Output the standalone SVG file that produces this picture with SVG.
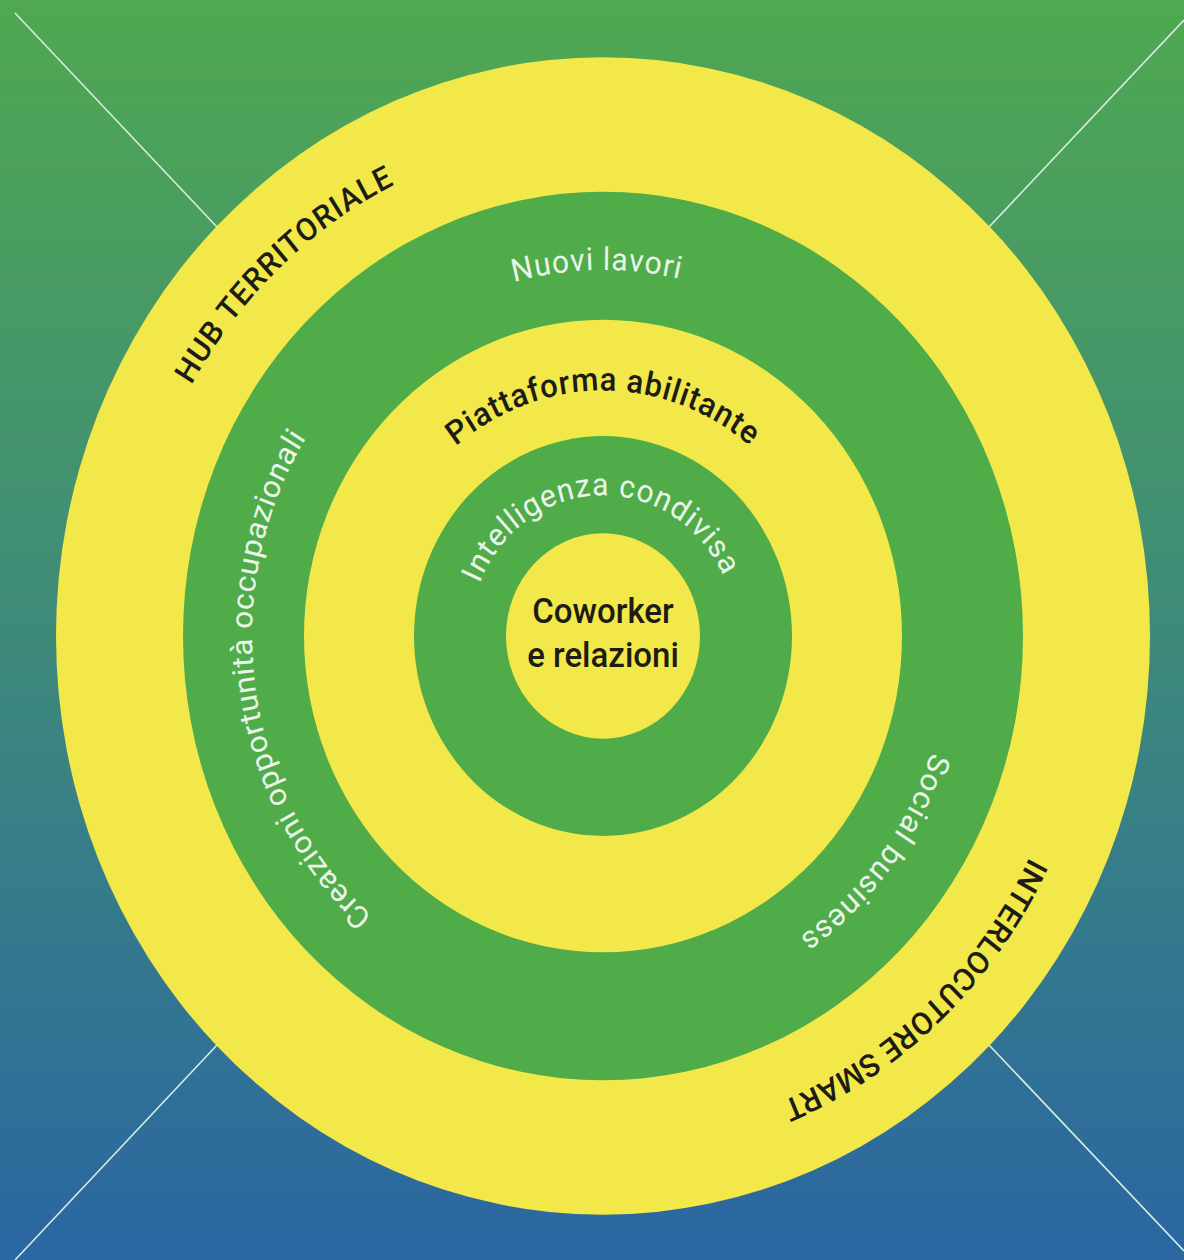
<svg xmlns="http://www.w3.org/2000/svg" xmlns:xlink="http://www.w3.org/1999/xlink" width="1184" height="1260" viewBox="0 0 1184 1260">
  <defs>
    <linearGradient id="bg" x1="0" y1="0" x2="0" y2="1">
      <stop offset="0" stop-color="#50a850"/>
      <stop offset="0.5" stop-color="#3e8a7a"/>
      <stop offset="1" stop-color="#2a66a2"/>
    </linearGradient>
    <path id="p475" d="M0,475 A475,475 0 0,1 0,-475 A475,475 0 0,1 0,475"/>
    <path id="p346" d="M0,346 A346,346 0 0,1 0,-346 A346,346 0 0,1 0,346"/>
    <path id="p351" d="M0,351 A351,351 0 0,1 0,-351 A351,351 0 0,1 0,351"/>
    <path id="p232" d="M0,232 A232,232 0 0,1 0,-232 A232,232 0 0,1 0,232"/>
    <path id="p133" d="M0,133 A133,133 0 0,1 0,-133 A133,133 0 0,1 0,133"/>
    <style>
      .yel { fill: #f2e84a; }
      .grn { fill: #50ac48; }
      .diag { stroke: #d6eee4; stroke-width: 1.6; fill: none; }
      .dark { fill: #1c1c14; font-family: Roboto, "Liberation Sans", sans-serif; font-weight: 500; }
      .light { fill: #e9f5ea; font-family: Roboto, "Liberation Sans", sans-serif; font-weight: 400; }
    </style>
  </defs>
  <rect x="0" y="0" width="1184" height="1260" fill="url(#bg)"/>
  <g id="connectors">
    <line class="diag" x1="15" y1="13" x2="217" y2="227"/>
    <line class="diag" x1="1184" y1="20" x2="989" y2="227"/>
    <line class="diag" x1="217" y1="1045" x2="15" y2="1260"/>
    <line class="diag" x1="989" y1="1045" x2="1184" y2="1251"/>
  </g>
  <g transform="translate(603,636) scale(1,1.058)">
    <g id="ring-hub">
      <circle class="yel" cx="0" cy="0" r="547"/>
      <text class="dark" font-size="30" letter-spacing="1" transform="rotate(-43)"><textPath href="#p475" startOffset="50%" text-anchor="middle">HUB TERRITORIALE</textPath></text>
      <text class="dark" font-size="30" letter-spacing="0.3" transform="rotate(137)"><textPath href="#p475" startOffset="50%" text-anchor="middle">INTERLOCUTORE SMART</textPath></text>
    </g>
    <g id="ring-lavori">
      <circle class="grn" cx="0" cy="0" r="420"/>
      <text class="light" font-size="30" letter-spacing="1" transform="rotate(-1)"><textPath href="#p346" startOffset="50%" text-anchor="middle">Nuovi lavori</textPath></text>
      <text class="light" font-size="30" letter-spacing="0.5" transform="rotate(-98.3)"><textPath href="#p351" startOffset="50%" text-anchor="middle">Creazioni opportunità occupazionali</textPath></text>
      <text class="light" font-size="30" letter-spacing="1" transform="rotate(127)"><textPath href="#p346" startOffset="50%" text-anchor="middle">Social business</textPath></text>
    </g>
    <g id="ring-piattaforma">
      <circle class="yel" cx="0" cy="0" r="299"/>
      <text class="dark" font-size="31" letter-spacing="0.8"><textPath href="#p232" startOffset="50%" text-anchor="middle">Piattaforma abilitante</textPath></text>
    </g>
    <g id="ring-intelligenza">
      <circle class="grn" cx="0" cy="0" r="189"/>
      <text class="light" font-size="30" letter-spacing="1" transform="rotate(-1.5)"><textPath href="#p133" startOffset="50%" text-anchor="middle">Intelligenza condivisa</textPath></text>
    </g>
    <g id="core">
      <circle class="yel" cx="0" cy="0" r="97"/>
      <text class="dark" font-size="33" text-anchor="middle" x="0" y="-12">Coworker</text>
      <text class="dark" font-size="33" text-anchor="middle" x="0" y="29">e relazioni</text>
    </g>
  </g>
</svg>
